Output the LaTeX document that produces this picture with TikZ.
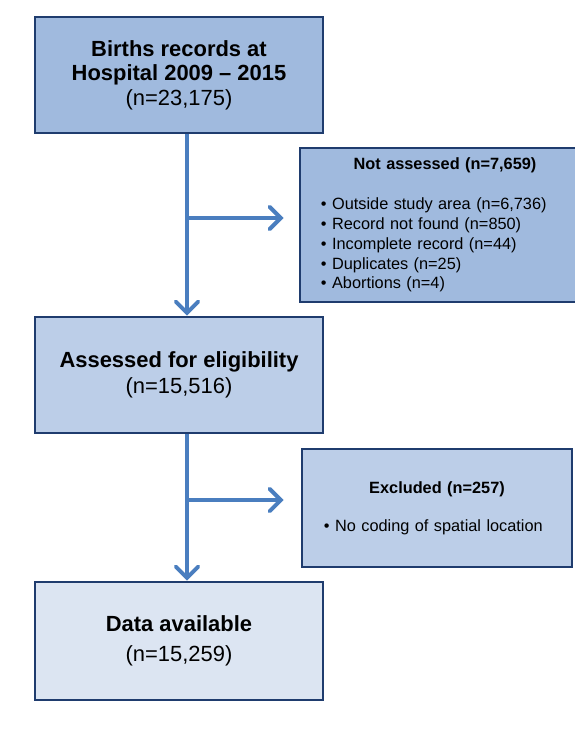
\documentclass[tikz,border=0pt]{standalone}
\usepackage{fontspec}
\setmainfont{Liberation Sans}
\usepackage{xcolor}
\definecolor{navy}{RGB}{31,60,110}
\definecolor{arrowblue}{RGB}{74,126,191}
\definecolor{fillmid}{RGB}{160,186,222}
\definecolor{filllight}{RGB}{188,206,232}
\definecolor{fillpale}{RGB}{220,229,242}
\usetikzlibrary{positioning, arrows.meta, calc}
\tikzstyle{box} = [
    draw=navy, line width=2pt, align=center, inner sep=0pt,
]
\tikzstyle{listbox} = [
    box, text width=6.2cm, align=left,
]
\tikzstyle{arrow} = [
    draw=arrowblue, line width=2.8pt,
    -{Straight Barb[length=8pt, width=16pt, line cap=round]},
]

\begin{document}
\begin{tikzpicture}[x=0.025cm, y=-0.025cm]
    \useasboundingbox (0,0) rectangle (574,740);
    % left column
    \node at (179,75) [box, fill=fillmid, minimum width=7.2cm, minimum height=2.9cm,
        font=\fontsize{15.6}{17.5}\selectfont] (births)
        {\textbf{Births records at}\\ \textbf{Hospital 2009 -- 2015}\\ (n=23,175)};
    \node at (179,375) [box, fill=filllight, minimum width=7.2cm, minimum height=2.9cm,
        font=\fontsize{15.6}{18.5}\selectfont] (assessed)
        {\textbf{Assessed for eligibility}\\ (n=15,516)};
    \node at (179,641) [box, fill=fillpale, minimum width=7.2cm, minimum height=2.95cm,
        font=\fontsize{15.6}{21}\selectfont] (available)
        {\textbf{Data available}\\ (n=15,259)};

    % right column
    \node at (445,225) [listbox, fill=fillmid, minimum width=7.25cm, minimum height=3.85cm,
        font=\fontsize{11.6}{14.2}\selectfont] (notassessed)
        {\centering\textbf{Not assessed (n=7,659)}\par\vspace{14pt}\raggedright
        • Outside study area (n=6,736)\\
        • Record not found (n=850)\\
        • Incomplete record (n=44)\\
        • Duplicates (n=25)\\
        • Abortions (n=4)};
    \node at (437,508) [listbox, fill=filllight, minimum width=6.75cm, minimum height=2.95cm,
        text width=5.65cm, font=\fontsize{11.6}{14.2}\selectfont] (excluded)
        {\centering\textbf{Excluded (n=257)}\par\vspace{13pt}\raggedright
        • No coding of spatial location};

    % arrows
    \coordinate (split1) at (187,218);
    \coordinate (split2) at (187,500);
    \draw[arrow] (births.south -| split1) -- (assessed.north -| split1);
    \draw[arrow] (split1) -- ([xshift=-15*0.025cm]notassessed.west |- split1);
    \draw[arrow] (assessed.south -| split2) -- (available.north -| split2);
    \draw[arrow] (split2) -- ([xshift=-17*0.025cm]excluded.west |- split2);

\end{tikzpicture}
\end{document}
